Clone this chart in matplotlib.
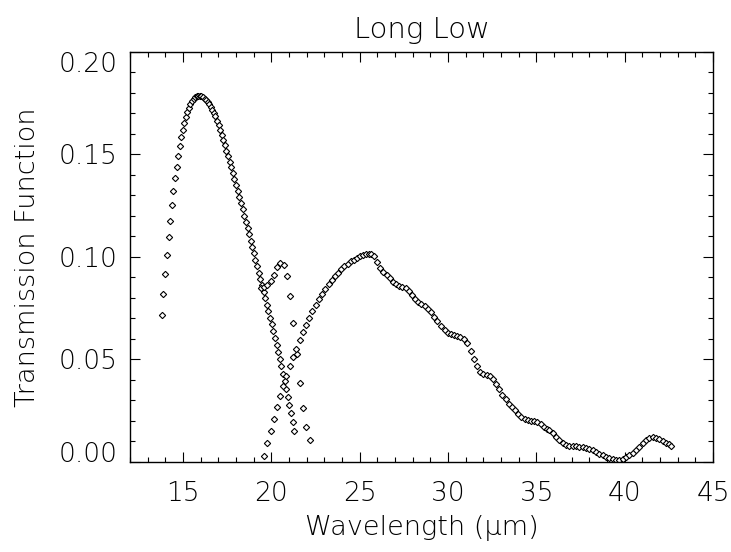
#!/usr/bin/env python3
import matplotlib
matplotlib.use("Agg")
import matplotlib.pyplot as plt
from matplotlib.ticker import MultipleLocator, FormatStrFormatter

# LL2 order (short wavelength hump)
ll2_wave = [13.79, 13.89, 13.981, 14.094, 14.189, 14.283, 14.358, 14.453, 14.547, 14.642,
            14.736, 14.811, 14.906, 14.981, 15.075, 15.151, 15.245, 15.340, 15.415, 15.509,
            15.604, 15.698, 15.774, 15.868, 15.962, 16.038, 16.132, 16.226, 16.302, 16.396,
            16.491, 16.585, 16.660, 16.755, 16.830, 16.925, 17.019, 17.113, 17.208, 17.283,
            17.377, 17.453, 17.547, 17.642, 17.736, 17.830, 17.906, 18.000, 18.094, 18.189,
            18.283, 18.377, 18.472, 18.566, 18.660, 18.736, 18.830, 18.925, 19.019, 19.094,
            19.189, 19.283, 19.377, 19.472, 19.566, 19.660, 19.755, 19.830, 19.925, 20.019,
            20.113, 20.208, 20.302, 20.396, 20.472, 20.566, 20.660, 20.755, 20.830, 20.925,
            21.019, 21.113, 21.208, 21.302]
ll2_trans = [0.0715, 0.0820, 0.0917, 0.1011, 0.1097, 0.1176, 0.1251, 0.1320, 0.1382, 0.1439,
             0.1492, 0.1538, 0.1582, 0.1619, 0.1651, 0.1681, 0.1705, 0.1726, 0.1742, 0.1757,
             0.1768, 0.1776, 0.1781, 0.1784, 0.1784, 0.1781, 0.1776, 0.1770, 0.1763, 0.1754,
             0.1742, 0.1731, 0.1716, 0.1702, 0.1684, 0.1661, 0.1640, 0.1617, 0.1595, 0.1570,
             0.1544, 0.1517, 0.1491, 0.1463, 0.1436, 0.1408, 0.1379, 0.1350, 0.1320, 0.1291,
             0.1262, 0.1231, 0.1200, 0.1171, 0.1140, 0.1110, 0.1079, 0.1048, 0.1017, 0.0986,
             0.0955, 0.0923, 0.0892, 0.0861, 0.0829, 0.0798, 0.0766, 0.0735, 0.0702, 0.0670,
             0.0638, 0.0605, 0.0571, 0.0537, 0.0503, 0.0466, 0.0430, 0.0394, 0.0356, 0.0318,
             0.0279, 0.0239, 0.0195, 0.0149]

# bonus order (small bump near 20.5 um)
bonus_wave = [19.396, 19.585, 19.774, 19.962, 20.151, 20.321, 20.491, 20.698, 20.868, 21.057,
              21.245, 21.434, 21.623, 21.811, 21.981, 22.189]
bonus_trans = [0.0850, 0.0853, 0.0861, 0.0882, 0.0913, 0.0949, 0.0972, 0.0962, 0.0907, 0.0808,
               0.0675, 0.0526, 0.0385, 0.0261, 0.0170, 0.0109]

# LL1 order (long tail)
ll1_wave = [19.604, 19.774, 19.962, 20.151, 20.321, 20.491, 20.679, 20.849, 21.057, 21.226,
            21.415, 21.604, 21.792, 21.962, 22.151, 22.321, 22.509, 22.698, 22.868, 23.057,
            23.245, 23.413, 23.602, 23.772, 23.961, 24.130, 24.319, 24.489, 24.678, 24.848,
            25.017, 25.206, 25.376, 25.508, 25.640, 25.791, 25.980, 26.149, 26.338, 26.527,
            26.697, 26.885, 27.055, 27.244, 27.413, 27.602, 27.772, 27.961, 28.130, 28.319,
            28.489, 28.678, 28.847, 29.036, 29.206, 29.395, 29.583, 29.810, 29.979, 30.168,
            30.338, 30.527, 30.696, 30.885, 31.055, 31.281, 31.451, 31.640, 31.810, 31.998,
            32.187, 32.357, 32.546, 32.715, 32.904, 33.074, 33.263, 33.432, 33.621, 33.810,
            33.979, 34.149, 34.338, 34.527, 34.697, 34.885, 35.055, 35.244, 35.413, 35.602,
            35.732, 35.921, 36.110, 36.298, 36.487, 36.676, 36.865, 37.053, 37.242, 37.431,
            37.619, 37.808, 37.997, 38.185, 38.374, 38.563, 38.751, 38.940, 39.129, 39.317,
            39.506, 39.695, 39.883, 40.072, 40.261, 40.449, 40.638, 40.827, 41.015, 41.204,
            41.393, 41.581, 41.770, 41.959, 42.147, 42.336, 42.525, 42.638]
ll1_trans = [0.0028, 0.0091, 0.0153, 0.0211, 0.0266, 0.0320, 0.0372, 0.0420, 0.0467, 0.0513,
             0.0553, 0.0595, 0.0633, 0.0668, 0.0702, 0.0735, 0.0766, 0.0792, 0.0821, 0.0844,
             0.0868, 0.0887, 0.0907, 0.0923, 0.0939, 0.0954, 0.0965, 0.0977, 0.0986, 0.0996,
             0.1003, 0.1007, 0.1012, 0.1015, 0.1015, 0.1006, 0.0975, 0.0946, 0.0926, 0.0912,
             0.0895, 0.0879, 0.0865, 0.0856, 0.0853, 0.0848, 0.0834, 0.0814, 0.0793, 0.0779,
             0.0769, 0.0759, 0.0746, 0.0730, 0.0707, 0.0686, 0.0662, 0.0644, 0.0631, 0.0625,
             0.0621, 0.0615, 0.0610, 0.0597, 0.0578, 0.0540, 0.0501, 0.0466, 0.0441, 0.0431,
             0.0425, 0.0420, 0.0406, 0.0381, 0.0355, 0.0328, 0.0305, 0.0284, 0.0266, 0.0252,
             0.0235, 0.0221, 0.0211, 0.0203, 0.0198, 0.0198, 0.0193, 0.0183, 0.0172, 0.0159,
             0.0156, 0.0139, 0.0122, 0.0107, 0.0092, 0.0083, 0.0078, 0.0076, 0.0076, 0.0075,
             0.0073, 0.0070, 0.0065, 0.0057, 0.0049, 0.0041, 0.0033, 0.0026, 0.0020, 0.0015,
             0.0011, 0.0011, 0.0015, 0.0023, 0.0034, 0.0045, 0.0058, 0.0075, 0.0091, 0.0105,
             0.0115, 0.0120, 0.0117, 0.0110, 0.0102, 0.0094, 0.0086, 0.0079]

x_range = [12, 45]
y_range = [0.0, 0.2]
x_ticks = [15, 20, 25, 30, 35, 40, 45]
y_ticks = [0.00, 0.05, 0.10, 0.15, 0.20]

# thin sans to look like the IDL vector font
plt.rcParams['font.family'] = ['DejaVu Sans']
plt.rcParams['font.weight'] = 'light'
plt.rcParams['axes.titleweight'] = 'light'
plt.rcParams['axes.labelweight'] = 'light'

fig = plt.figure(figsize=(7.31, 5.52), dpi=100)
ax = fig.add_axes([0.1778, 0.1630, 0.7975, 0.7437])

for w, t in [(ll2_wave, ll2_trans), (bonus_wave, bonus_trans), (ll1_wave, ll1_trans)]:
    ax.plot(w, t, linestyle='none', marker='D', markersize=3.2,
            markerfacecolor='white', markeredgecolor='black', markeredgewidth=0.8)

ax.set_xlim(x_range)
ax.set_ylim(y_range)
ax.set_xticks(x_ticks)
ax.set_yticks(y_ticks)
ax.xaxis.set_minor_locator(MultipleLocator(1))
ax.yaxis.set_minor_locator(MultipleLocator(0.01))
ax.yaxis.set_major_formatter(FormatStrFormatter('%.2f'))

# IDL style: ticks inside, on all four sides
ax.tick_params(which='both', direction='in', top=True, right=True, width=0.8, color='black')
ax.tick_params(which='major', length=7.5)
ax.tick_params(which='minor', length=3.8)
ax.tick_params(axis='x', which='major', labelsize=19, pad=14)
ax.tick_params(axis='y', which='major', labelsize=19, pad=9)
for s in ax.spines.values():
    s.set_linewidth(1.0)

ylabels = ax.get_yticklabels()
ylabels[0].set_va('baseline')
ylabels[-1].set_va('top')

ax.set_title('Long Low', fontsize=21, pad=10, fontweight='light')
ax.set_xlabel('Wavelength (\u03bcm)', fontsize=19.5, labelpad=6, fontweight='light')
ax.set_ylabel('Transmission Function', fontsize=19.5, labelpad=13, fontweight='light')

plt.savefig('out.png', dpi=100)
